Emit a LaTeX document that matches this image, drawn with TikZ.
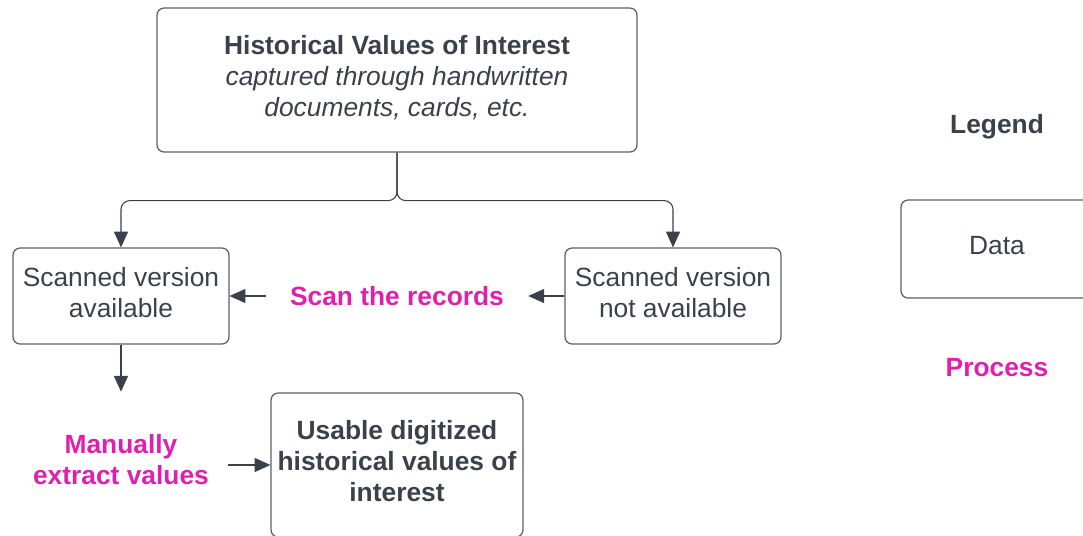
\documentclass[tikz,border=0pt]{standalone}
\usepackage{fontspec}
\setmainfont{Liberation Sans}
\usetikzlibrary{arrows.meta}
\definecolor{ink}{HTML}{3A414A}
\definecolor{rim}{HTML}{5A5F66}
\definecolor{procpink}{HTML}{E01FAE}

\begin{document}
\begin{tikzpicture}[x=0.02cm, y=-0.02cm,
    every node/.style = {align=center, text=ink, font=\fontsize{15}{17.6}\selectfont},
    boldtext/.style = {font=\fontsize{15}{17.6}\selectfont\bfseries},
    data/.style = {draw=rim, line width=0.7pt, rounded corners=4pt, inner sep=0pt,
        execute at end node={\rule[-4.5pt]{0pt}{4.5pt}}},
    process/.style = {boldtext, text=procpink, inner sep=0pt},
    flow/.style = {draw=ink, line width=0.6pt, -{Triangle[length=9pt,width=8pt]}}]
    \clip (0,0) rectangle (1083,535);
    % data boxes
    \node[data, minimum width=9.6cm, minimum height=2.88cm] (hist) at (397,80)
        {\textbf{Historical Values of Interest}\\ \textit{captured through handwritten}\\ \textit{documents, cards, etc.}};
    \node[data, minimum width=4.32cm, minimum height=1.92cm] (avail) at (121,296) {Scanned version\\available};
    \node[data, minimum width=4.32cm, minimum height=1.92cm] (notavail) at (673,296) {Scanned version\\not available};
    \node[data, boldtext, minimum width=5.04cm, minimum height=2.88cm] (usable) at (397,465)
        {Usable digitized\\historical values of\\interest};
    % processes
    \node[process, minimum width=5.24cm, minimum height=1cm] (scan) at (397,296) {Scan the records};
    \node[process, minimum width=4.28cm, minimum height=2.72cm] (manual) at (121,460) {Manually\\extract values};
    % legend
    \node[boldtext] (legend) at (997,127) {Legend};
    \node[data, minimum width=3.84cm, minimum height=1.96cm] (legdata) at (997,249) {Data};
    \node[process] (legproc) at (997,368) {Process};
    % connectors
    \draw[flow, rounded corners=5pt] (hist.south) -- ++(0,48) -| (avail.north);
    \draw[flow, rounded corners=5pt] (hist.south) -- ++(0,48) -| (notavail.north);
    \draw[flow] (notavail) -- (scan);
    \draw[flow] (scan) -- (avail);
    \draw[flow] (avail) -- (manual);
    \draw[flow] (manual.east |- usable) -- (usable);
\end{tikzpicture}
\end{document}
